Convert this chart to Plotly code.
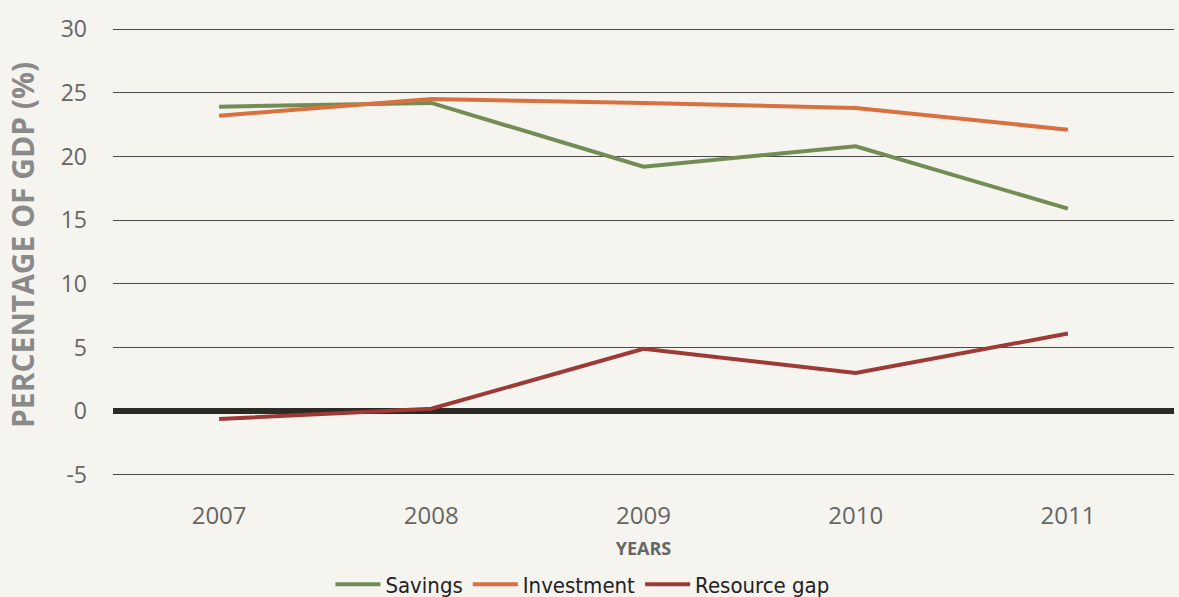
import plotly.graph_objects as go

years = ["2007", "2008", "2009", "2010", "2011"]
savings = [23.9, 24.2, 19.2, 20.8, 15.9]
investment = [23.2, 24.5, 24.2, 23.8, 22.1]
resource_gap = [-0.6, 0.2, 4.9, 3.0, 6.1]
y_ticks = [-5, 0, 5, 10, 15, 20, 25, 30]
y_tick_text = ["-5", "0", "5", "10", "15", "20", "25", "30"]

fig = go.Figure()
series = [
    ("Savings", savings, "#738c55"),
    ("Investment", investment, "#d9703f"),
    ("Resource gap", resource_gap, "#9e3a35"),
]
for name, vals, col in series:
    fig.add_trace(go.Scatter(x=years, y=vals, name=name, mode="lines",
                             line=dict(color=col, width=4)))

bg = "#f5f4ef"
fig.update_layout(
    width=1179, height=597,
    paper_bgcolor=bg, plot_bgcolor=bg,
    margin=dict(l=113, r=5, t=28, b=121, autoexpand=False),
    showlegend=True,
    legend=dict(orientation="h", xref="container", x=0.494, xanchor="center",
                y=-0.195, yanchor="top",
                font=dict(family="DejaVu Sans Condensed, Liberation Sans Narrow, Open Sans", size=22, color="#222"),
                itemwidth=45, traceorder="normal"),
    xaxis=dict(type="category", range=[-0.5, 4.5], showgrid=False, zeroline=False, showline=False,
               ticks="", ticklabelstandoff=23,
               tickfont=dict(family="Open Sans", size=24, color="#666"),
               title=dict(text="<b>YEARS</b>", font=dict(family="Open Sans", size=18, color="#666"), standoff=12)),
    yaxis=dict(range=[-5.08, 30.08], tickvals=y_ticks, ticktext=y_tick_text,
               showgrid=True, gridcolor="#4a4a4a", gridwidth=1,
               zeroline=True, zerolinecolor="#2b2a25", zerolinewidth=6, showline=False,
               ticks="", ticklabelstandoff=25,
               tickfont=dict(family="Open Sans", size=23, color="#666")),
    annotations=[dict(text="<b>PERCENTAGE OF GDP (%)</b>", textangle=-90,
                      xref="paper", yref="paper", x=-0.0858, y=0.5156,
                      xanchor="center", yanchor="middle", showarrow=False,
                      font=dict(family="Open Sans", size=30, color="#8a8a8a"))],
)

fig.write_html("out.html", config={"displayModeBar": False},
               post_script="document.body.style.margin='0';document.body.style.padding='0';")
